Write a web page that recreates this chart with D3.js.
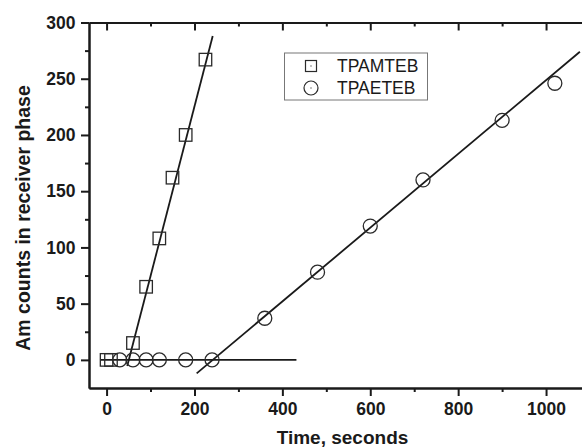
<!DOCTYPE html>
<html>
<head>
<meta charset="utf-8">
<script src="https://cdn.jsdelivr.net/npm/d3@7"></script>
<style>
  html, body { margin: 0; padding: 0; background: #fff; }
  svg { display: block; font-family: "Liberation Sans", Arial, sans-serif; }
</style>
</head>
<body>
<svg id="chart" width="582" height="448"></svg>
<script>
// ---- data ----
const tpamtebTime   = [0, 10, 60, 90, 120, 150, 180, 225];
const tpamtebCounts = [0, 0, 15, 65, 108, 162, 200, 267];
const tpaetebTime   = [30, 60, 90, 120, 180, 240, 360, 480, 600, 720, 900, 1020];
const tpaetebCounts = [0, 0, 0, 0, 0, 0, 37, 78, 119, 160, 213, 246];
// fitted lines (endpoints)
const fitMamX = [47, 241.5];
const fitMamY = [-5.5, 288];
const fitAetX = [205, 1077];
const fitAetY = [-12, 274];
const baseX = [-15, 432];
const baseY = [0, 0];
const xMajorTicks = [0, 200, 400, 600, 800, 1000];
const xMinorTicks = [100, 300, 500, 700, 900];
const yMajorTicks = [0, 50, 100, 150, 200, 250, 300];
const yMinorTicks = [25, 75, 125, 175, 225, 275];
const seriesNames = ["TPAMTEB", "TPAETEB"];
const xTitle = "Time, seconds";
const yTitle = "Am counts in receiver phase";

// ---- layout ----
const svg = d3.select("#chart");
const L = 89, R = 590, T = 22.5, B = 388;
const x = d3.scaleLinear().domain([-40, 1100]).range([L, R]);
const y = d3.scaleLinear().domain([-25, 300]).range([B, T]);
const ink = "#1a1a1a";

function styleAxis(g) {
  g.select(".domain").attr("stroke", ink).attr("stroke-width", 2);
  g.selectAll(".tick line").attr("stroke", ink).attr("stroke-width", 2);
  g.selectAll("text").attr("fill", ink).attr("font-weight", "bold").attr("font-size", 17.5)
    .attr("font-family", '"Liberation Sans", Arial, sans-serif');
}

// bottom axis (ticks outward)
svg.append("g").attr("transform", `translate(0,${B})`)
  .call(d3.axisBottom(x).tickValues(xMinorTicks).tickSize(4).tickSizeOuter(0).tickFormat(""))
  .call(styleAxis);
svg.append("g").attr("transform", `translate(0,${B})`)
  .call(d3.axisBottom(x).tickValues(xMajorTicks).tickSize(8).tickPadding(6.5).tickSizeOuter(0).tickFormat(d3.format("d")))
  .call(styleAxis);
// top axis (ticks inward)
svg.append("g").attr("transform", `translate(0,${T})`)
  .call(d3.axisTop(x).tickValues(xMinorTicks).tickSize(-4).tickSizeOuter(0).tickFormat(""))
  .call(styleAxis);
svg.append("g").attr("transform", `translate(0,${T})`)
  .call(d3.axisTop(x).tickValues(xMajorTicks).tickSize(-8).tickSizeOuter(0).tickFormat(""))
  .call(styleAxis);
// left axis (ticks outward)
svg.append("g").attr("transform", `translate(${L},0)`)
  .call(d3.axisLeft(y).tickValues(yMinorTicks).tickSize(4).tickSizeOuter(0).tickFormat(""))
  .call(styleAxis);
svg.append("g").attr("transform", `translate(${L},0)`)
  .call(d3.axisLeft(y).tickValues(yMajorTicks).tickSize(8).tickPadding(5.5).tickSizeOuter(0).tickFormat(d3.format("d")))
  .call(styleAxis);
// right axis (ticks inward)
svg.append("g").attr("transform", `translate(${R},0)`)
  .call(d3.axisRight(y).tickValues(yMinorTicks).tickSize(-4).tickSizeOuter(0).tickFormat(""))
  .call(styleAxis);
svg.append("g").attr("transform", `translate(${R},0)`)
  .call(d3.axisRight(y).tickValues(yMajorTicks).tickSize(-8).tickSizeOuter(0).tickFormat(""))
  .call(styleAxis);

// axis titles
svg.append("text")
  .attr("x", (x(-40) + x(1100)) / 2 + 3).attr("y", 444)
  .attr("text-anchor", "middle").attr("font-weight", "bold").attr("font-size", 19)
  .attr("fill", ink).text(xTitle);
svg.append("text")
  .attr("transform", `translate(29.5,${218}) rotate(-90)`)
  .attr("text-anchor", "middle").attr("font-weight", "bold").attr("font-size", 19.5)
  .attr("fill", ink).text(yTitle);

// ---- fitted lines ----
const line = d3.line().x(d => x(d[0])).y(d => y(d[1]));
const plot = svg.append("g");
[[fitMamX, fitMamY], [baseX, baseY], [fitAetX, fitAetY]].forEach(([xs, ys]) => {
  plot.append("path")
    .attr("d", line(xs.map((v, i) => [v, ys[i]])))
    .attr("fill", "none").attr("stroke", ink).attr("stroke-width", 1.8);
});

// ---- markers ----
const mk = "#2a2a2a";
const sq = 12.5, cr = 7;
plot.selectAll(".sq").data(tpamtebTime.map((t, i) => [t, tpamtebCounts[i]]))
  .enter().append("rect")
  .attr("x", d => x(d[0]) - sq / 2).attr("y", d => y(d[1]) - sq / 2)
  .attr("width", sq).attr("height", sq)
  .attr("fill", "none").attr("stroke", mk).attr("stroke-width", 1.3);
plot.selectAll(".ci").data(tpaetebTime.map((t, i) => [t, tpaetebCounts[i]]))
  .enter().append("circle")
  .attr("cx", d => x(d[0])).attr("cy", d => y(d[1])).attr("r", cr)
  .attr("fill", "none").attr("stroke", mk).attr("stroke-width", 1.3);

// ---- legend ----
const lg = svg.append("g");
lg.append("rect").attr("x", 284.5).attr("y", 53).attr("width", 143).attr("height", 47)
  .attr("fill", "#fff").attr("stroke", "#777").attr("stroke-width", 1);
const rows = [66, 88];
lg.append("rect").attr("x", 311 - 5.5).attr("y", rows[0] - 5.5).attr("width", 11).attr("height", 11)
  .attr("fill", "none").attr("stroke", mk).attr("stroke-width", 1.2);
lg.append("circle").attr("cx", 311).attr("cy", rows[1]).attr("r", 7)
  .attr("fill", "none").attr("stroke", mk).attr("stroke-width", 1.2);
rows.forEach(r => lg.append("circle").attr("cx", 311).attr("cy", r).attr("r", 0.7).attr("fill", "#555"));
seriesNames.forEach((n, i) => {
  lg.append("text").attr("x", 337).attr("y", rows[i] + 6.3)
    .attr("font-size", 17.5).attr("fill", ink).text(n);
});
</script>
</body>
</html>
